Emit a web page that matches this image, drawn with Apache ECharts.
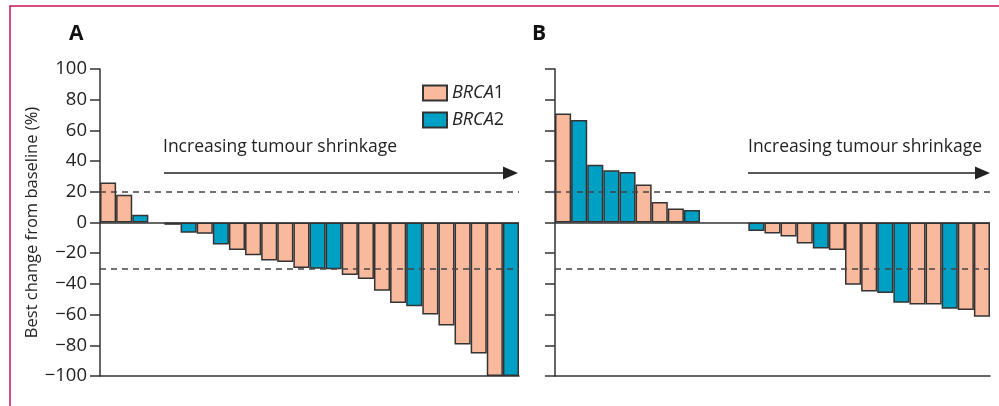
<!DOCTYPE html>
<html>
<head>
<meta charset="utf-8">
<script src="https://cdn.jsdelivr.net/npm/echarts@6/dist/echarts.min.js"></script>
<style>html,body{margin:0;padding:0;background:#fff}#c{width:999px;height:406px}</style>
</head>
<body>
<div id="c"></div>
<script>
// Panel A: best change from baseline (%), ordered as drawn; null = empty slot
const valuesA = [26, 18, 5, null, -1.5, -6.7, -7.4, -14.4, -17.9, -21.3, -24.8, -25.7, -29.6, -30.1, -30.5, -34.2, -36.8, -44.4, -52.5, -54.5, -59.9, -67.1, -79.5, -85.4, -100, -100];
const genesA  = [1, 1, 2, 0, 2, 2, 1, 2, 1, 1, 1, 1, 1, 2, 2, 1, 1, 1, 1, 2, 1, 1, 1, 1, 1, 2];
// Panel B
const valuesB = [71, 66.7, 37.7, 34, 32.9, 24.8, 13.3, 9.2, 8.1, null, null, null, -5.5, -7.2, -9.2, -13.7, -17, -17.9, -40.5, -44.9, -46, -52.3, -53.4, -53.4, -56.2, -57, -61.4];
const genesB  = [1, 2, 2, 2, 2, 1, 1, 1, 2, 0, 0, 0, 2, 1, 1, 1, 2, 1, 1, 1, 2, 2, 1, 1, 2, 1, 1];
const seriesNames = ['BRCA1', 'BRCA2'];
const yTicks = [-100, -80, -60, -40, -20, 0, 20, 40, 60, 80, 100];
const thresholds = [20, -30];

const FONT = 'Open Sans';
const INK = '#333';
const colors = { BRCA1: '#F9B99C', BRCA2: '#00A0C4' };

function makeSeries(values, genes, idx) {
  return seriesNames.map((name, k) => {
    const s = {
      name: name,
      type: 'bar',
      xAxisIndex: idx, yAxisIndex: idx,
      barGap: '-100%', barCategoryGap: '0%',
      itemStyle: { color: colors[name], borderColor: INK, borderWidth: 1.5 },
      data: values.map((v, i) => (genes[i] === k + 1 && v !== null) ? v : '-'),
      animation: false
    };
    if (k === 0) {
      s.markLine = {
        silent: true, symbol: 'none', animation: false,
        label: { show: false },
        data: [
          { yAxis: 0, lineStyle: { type: 'solid', color: INK, width: 1.5 } },
          ...thresholds.map(t => ({ yAxis: t, lineStyle: { type: [6, 5], color: '#444', width: 1.5 } }))
        ]
      };
    }
    return s;
  });
}

function yAxis(idx, showLabels) {
  return {
    gridIndex: idx, type: 'value', min: yTicks[0], max: yTicks[yTicks.length - 1], interval: 20,
    axisLine: { show: true, lineStyle: { color: INK, width: 1.5 } },
    axisTick: { show: true, length: 10, inside: false, lineStyle: { color: INK, width: 1.5 } },
    axisLabel: { show: showLabels, margin: 13, fontFamily: FONT, fontSize: 18.5, color: '#222',
      formatter: v => String(v).replace('-', '\u2212') },
    splitLine: { show: false },
    name: showLabels ? 'Best change from baseline (%)' : '',
    nameLocation: 'middle', nameRotate: 90, nameGap: 59,
    nameTextStyle: { fontFamily: FONT, fontSize: 16.5, color: '#222' }
  };
}

function xAxis(idx, n) {
  return {
    gridIndex: idx, type: 'category', data: Array.from({ length: n }, (_, i) => String(i + 1)),
    boundaryGap: true,
    axisLine: { show: true, onZero: false, lineStyle: { color: INK, width: 1.5 } },
    axisTick: { show: false }, axisLabel: { show: false }, splitLine: { show: false }
  };
}

function arrow(x1, x2, yLine, textX, yText) {
  return [
    { type: 'text', left: textX, top: yText, style: { text: 'Increasing tumour shrinkage', font: '17.5px "' + FONT + '"', fill: '#222' } },
    { type: 'line', shape: { x1: x1, y1: yLine, x2: x2 - 12, y2: yLine }, style: { stroke: '#222', lineWidth: 1.5 } },
    { type: 'polygon', shape: { points: [[x2 - 15, yLine - 6.5], [x2, yLine], [x2 - 15, yLine + 6.5]] }, style: { fill: '#222' } }
  ];
}

const chart = echarts.init(document.getElementById('c'), null, { renderer: 'canvas' });
chart.setOption({
  animation: false,
  backgroundColor: '#fff',
  grid: [
    { left: 100, right: 480, top: 69, bottom: 30 },
    { left: 555, right: 9, top: 69, bottom: 30 }
  ],
  xAxis: [xAxis(0, valuesA.length), xAxis(1, valuesB.length)],
  yAxis: [yAxis(0, true), yAxis(1, false)],
  legend: {
    data: seriesNames, orient: 'vertical', left: 422, top: 84, itemGap: 9, padding: 0,
    itemWidth: 24, itemHeight: 15, icon: 'rect', selectedMode: false,
    textStyle: { fontFamily: FONT, fontSize: 18, color: '#222', lineHeight: 15,
      rich: { i: { fontStyle: 'italic', fontFamily: FONT, fontSize: 18, lineHeight: 15, color: '#222' } } },
    formatter: n => '{i|' + n.slice(0, 4) + '}' + n.slice(4)
  },
  series: [...makeSeries(valuesA, genesA, 0), ...makeSeries(valuesB, genesB, 1)],
  graphic: [
    { type: 'rect', shape: { x: 10, y: 6, width: 1100, height: 500 }, style: { fill: 'none', stroke: '#cc1458', lineWidth: 1.5 }, z: 100 },
    { type: 'text', left: 69, top: 24, style: { text: 'A', font: 'bold 21px "' + FONT + '"', fill: '#111' } },
    { type: 'text', left: 532, top: 24, style: { text: 'B', font: 'bold 21px "' + FONT + '"', fill: '#111' } },
    ...arrow(164, 518, 173, 163, 138),
    ...arrow(748, 990, 173, 748, 138)
  ]
});
</script>
</body>
</html>
